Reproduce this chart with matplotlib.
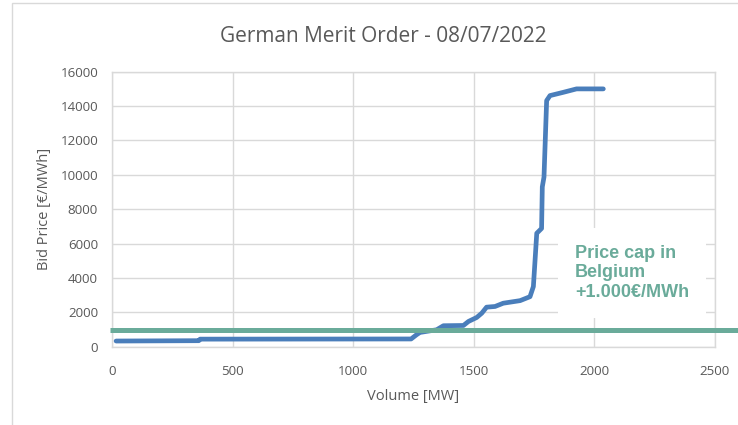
import matplotlib
matplotlib.use("Agg")
import matplotlib.pyplot as plt
from matplotlib.patches import Rectangle

# ---- data ----
volume_mw = [17, 360, 365, 1240, 1263, 1277, 1346, 1374, 1457, 1478, 1512, 1533,
             1553, 1588, 1622, 1692, 1733, 1747, 1754, 1761, 1781, 1784, 1791,
             1802, 1816, 1871, 1926, 2037]
bid_price = [330, 350, 440, 450, 700, 830, 985, 1220, 1235, 1470, 1700, 1950,
             2300, 2340, 2530, 2680, 2910, 3500, 5040, 6600, 6880, 9300, 9870,
             14320, 14610, 14800, 15000, 15000]
cap_volume = [-10, 2600]
cap_price = [1000, 1000]
x_ticks = [0, 500, 1000, 1500, 2000, 2500]
y_ticks = [0, 2000, 4000, 6000, 8000, 10000, 12000, 14000, 16000]
title = "German Merit Order - 08/07/2022"
annotation = "Price cap in\nBelgium\n+1.000€/MWh"

plt.rcParams['font.family'] = ['Open Sans', 'DejaVu Sans']
GRAY = '#595959'
GRID = '#d9d9d9'
BLUE = '#4a7ebb'
GREEN = '#6aab9a'

fig = plt.figure(figsize=(7.38, 4.25), dpi=100)
fig.patch.set_facecolor('white')
fig.patches.append(Rectangle((12/738, -0.1), 1.2, 1.1 - 3/425 + 0.0, transform=fig.transFigure,
                             facecolor='none', edgecolor=GRID, linewidth=1.0))

ax = fig.add_axes([112/738, 1 - 346.7/425, (715 - 112)/738, (346.7 - 71.7)/425])
ax.plot(volume_mw, bid_price, color=BLUE, linewidth=3.4, solid_capstyle='round',
        solid_joinstyle='round', zorder=3)
ax.plot(cap_volume, cap_price, color=GREEN, linewidth=3.6, solid_capstyle='butt',
        zorder=4, clip_on=False)

ax.set_xlim(0, 2500)
ax.set_ylim(0, 16000)
ax.set_xticks(x_ticks)
ax.set_yticks(y_ticks)
ax.grid(True, color=GRID, linewidth=1.0, zorder=0)
ax.set_axisbelow(True)
for s in ax.spines.values():
    s.set_color(GRID)
    s.set_linewidth(1.0)
ax.tick_params(length=0, labelsize=9.6, labelcolor=GRAY)
ax.tick_params(axis='y', pad=10)
ax.tick_params(axis='x', pad=13)
ax.set_xlabel("Volume [MW]", fontsize=10.5, color=GRAY, labelpad=8)
ax.set_ylabel("Bid Price [€/MWh]", fontsize=10.5, color=GRAY, labelpad=6)

ax.text(1920, 4300, annotation, ha='left', va='center', fontsize=13,
        fontweight='bold', color=GREEN, family='Liberation Sans', linespacing=1.2,
        bbox=dict(facecolor='white', edgecolor='none', pad=12), zorder=2)

fig.text(383/738, 1 - 37/425, title, ha='center', va='center', fontsize=15, color=GRAY)

fig.savefig("out.png", dpi=100, facecolor='white')
